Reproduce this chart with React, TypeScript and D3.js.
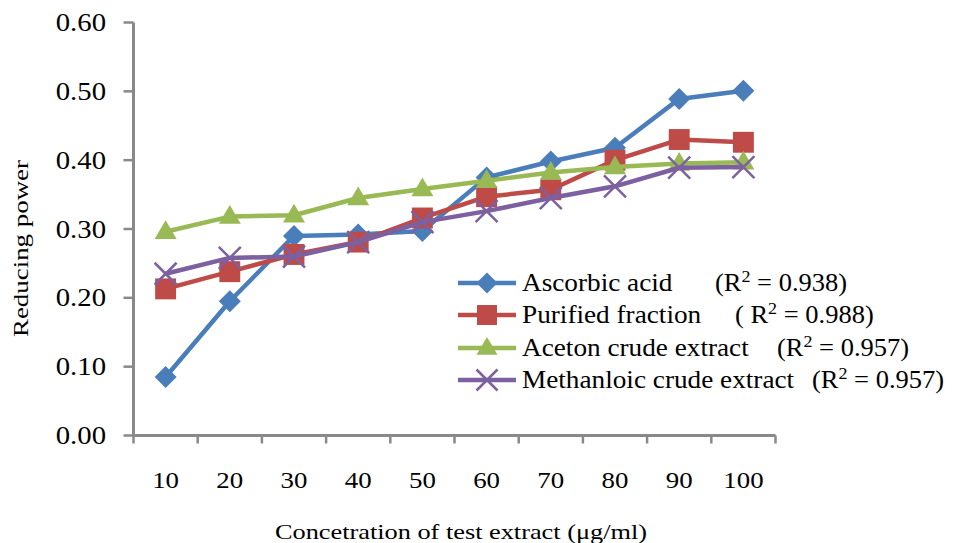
import * as d3 from 'd3'

const concentrations = ['10', '20', '30', '40', '50', '60', '70', '80', '90', '100']
const ascorbicAcid = [0.085, 0.195, 0.29, 0.292, 0.297, 0.375, 0.398, 0.418, 0.489, 0.501]
const purifiedFraction = [0.213, 0.238, 0.263, 0.281, 0.316, 0.347, 0.357, 0.4, 0.43, 0.426]
const acetonExtract = [0.296, 0.318, 0.32, 0.345, 0.358, 0.37, 0.382, 0.39, 0.395, 0.397]
const methanolicExtract = [0.235, 0.258, 0.26, 0.281, 0.31, 0.326, 0.345, 0.362, 0.389, 0.39]
const yTicks = [0, 0.1, 0.2, 0.3, 0.4, 0.5, 0.6]

type Marker = 'diamond' | 'square' | 'triangle' | 'cross'

const SERIES: { name: string; r2: string; r2x: number; color: string; marker: Marker; values: number[] }[] = [
  { name: 'Ascorbic acid', r2: '0.938', r2x: 715, color: '#4a7ebb', marker: 'diamond', values: ascorbicAcid },
  { name: 'Purified fraction', r2: '0.988', r2x: 735, color: '#be4b48', marker: 'square', values: purifiedFraction },
  { name: 'Aceton crude extract', r2: '0.957', r2x: 777, color: '#98b954', marker: 'triangle', values: acetonExtract },
  { name: 'Methanloic crude extract', r2: '0.957', r2x: 812, color: '#7d60a0', marker: 'cross', values: methanolicExtract },
]

const WIDTH = 972
const HEIGHT = 543
const LEFT = 133.5
const RIGHT = 775.5
const TOP = 22.5
const BOTTOM = 435.5
const AXIS = '#898989'
const FONT = '"Liberation Serif", "Times New Roman", serif'

function markerPath(kind: Marker, s: number) {
  if (kind === 'diamond') return `M0,${-s} L${s},0 L0,${s} L${-s},0 Z`
  if (kind === 'square') return `M${-s * 0.95},${-s * 0.95} H${s * 0.95} V${s * 0.95} H${-s * 0.95} Z`
  if (kind === 'triangle') return `M0,${-s * 1.05} L${s},${s * 0.65} L${-s},${s * 0.65} Z`
  return `M${-s},${-s} L${s},${s} M${-s},${s} L${s},${-s}`
}

function MarkerShape({ kind, color, x, y, s }: { kind: Marker; color: string; x: number; y: number; s: number }) {
  const cross = kind === 'cross'
  return (
    <path
      d={markerPath(kind, s)}
      transform={`translate(${x},${y})`}
      fill={cross ? 'none' : color}
      stroke={color}
      strokeWidth={cross ? 2.5 : 0}
    />
  )
}

function StretchText({ x, y, sx = 1.12, anchor = 'start', size = 24, rotate = 0, children }: any) {
  return (
    <text
      transform={`translate(${x},${y}) rotate(${rotate}) scale(${sx},1)`}
      textAnchor={anchor}
      fontSize={size}
      fontFamily={FONT}
      fill="#000"
    >
      {children}
    </text>
  )
}

export default function App() {
  const x = d3.scaleBand<string>().domain(concentrations).range([LEFT, RIGHT]).padding(0)
  const y = d3.scaleLinear().domain([0, 0.6]).range([BOTTOM, TOP])
  const cx = (c: string) => (x(c) ?? 0) + x.bandwidth() / 2
  const line = d3
    .line<number>()
    .x((_, i) => cx(concentrations[i]))
    .y((v) => y(v))

  const legendRows = [283, 315, 348, 380]
  const legendTextY = [291, 323, 356, 388]

  return (
    <svg
      width={WIDTH}
      height={HEIGHT}
      style={{ position: 'absolute', left: 0, top: 0, background: '#fff' }}
    >
      {/* y axis */}
      <line x1={LEFT} x2={LEFT} y1={TOP} y2={BOTTOM} stroke={AXIS} strokeWidth={3} />
      {yTicks.map((t) => (
        <g key={t}>
          <line x1={LEFT - 10} x2={LEFT} y1={y(t)} y2={y(t)} stroke={AXIS} strokeWidth={2.5} />
          <StretchText x={106} y={y(t) + 8.5} anchor="end" size={25} sx={1.15}>
            {d3.format('.2f')(t)}
          </StretchText>
        </g>
      ))}

      {/* x axis */}
      <line x1={LEFT - 1.5} x2={RIGHT} y1={BOTTOM} y2={BOTTOM} stroke={AXIS} strokeWidth={3} />
      {[...concentrations.map((c) => x(c) ?? 0), RIGHT].map((px, i) => (
        <line key={i} x1={px} x2={px} y1={BOTTOM} y2={BOTTOM + 8} stroke={AXIS} strokeWidth={2.5} />
      ))}
      {concentrations.map((c) => (
        <StretchText key={c} x={cx(c)} y={488} anchor="middle" size={24} sx={1.12}>
          {c}
        </StretchText>
      ))}

      <text
        x={461}
        y={539}
        textAnchor="middle"
        fontSize={21}
        fontFamily={FONT}
        textLength={372}
        lengthAdjust="spacingAndGlyphs"
      >
        Concetration of test extract (μg/ml)
      </text>
      <text
        transform={`translate(27.5,248.5) rotate(-90)`}
        textAnchor="middle"
        fontSize={21}
        fontFamily={FONT}
        textLength={177}
        lengthAdjust="spacingAndGlyphs"
      >
        Reducing power
      </text>

      {/* series */}
      {SERIES.map((s) => (
        <g key={s.name}>
          <path d={line(s.values) ?? ''} fill="none" stroke={s.color} strokeWidth={4.5} strokeLinejoin="round" />
          {s.values.map((v, i) => (
            <MarkerShape key={i} kind={s.marker} color={s.color} x={cx(concentrations[i])} y={y(v)} s={11} />
          ))}
        </g>
      ))}

      {/* legend */}
      {SERIES.map((s, i) => (
        <g key={s.name}>
          <line x1={458} x2={516} y1={legendRows[i]} y2={legendRows[i]} stroke={s.color} strokeWidth={4.5} />
          <MarkerShape kind={s.marker} color={s.color} x={487} y={legendRows[i]} s={10.5} />
          <StretchText x={522} y={legendTextY[i]} size={25} sx={1.09}>
            {s.name}
          </StretchText>
          <StretchText x={s.r2x} y={legendTextY[i]} size={25} sx={1.06}>
            {i === 1 ? '( R' : '(R'}
            <tspan dy={-9} fontSize={17}>2</tspan>
            <tspan dy={9}> = {s.r2})</tspan>
          </StretchText>
        </g>
      ))}
    </svg>
  )
}
